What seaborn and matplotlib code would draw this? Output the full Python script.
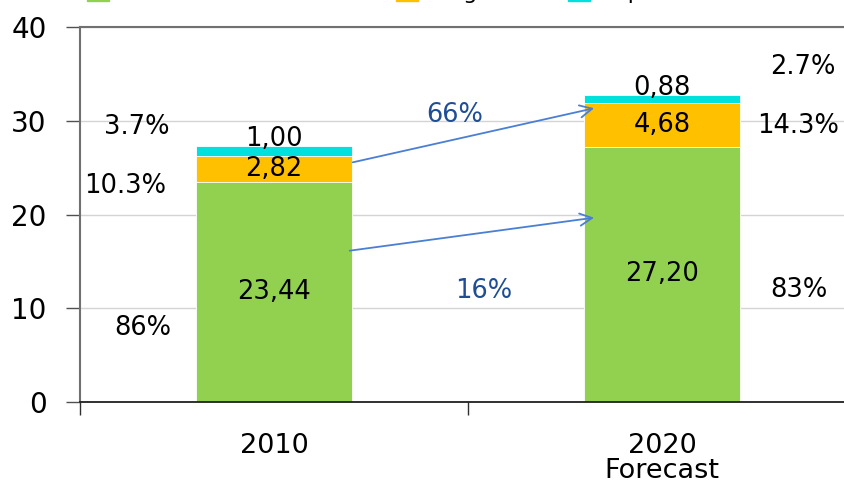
import pandas as pd
import matplotlib.pyplot as plt
import seaborn as sns
from matplotlib.patches import Patch

# values
years = ['2010', '2020\nForecast']
components = ['Combustível sólido', 'Biogás', 'Líquidos']
green_vals = [23.44, 27.20]
orange_vals = [2.82, 4.68]
cyan_vals = [1.00, 0.88]
share_2010 = ['86%', '10.3%', '3.7%']
share_2020 = ['83%', '14.3%', '2.7%']
growth = ['16%', '66%']
colors = ['#92D050', '#FFC000', '#00E0DC']

df = pd.DataFrame({'year': years, 'green': green_vals,
                   'orange': orange_vals, 'cyan': cyan_vals})
df['c_green'] = df['green']
df['c_orange'] = df['green'] + df['orange']
df['c_cyan'] = df['c_orange'] + df['cyan']

sns.set_style('white')
plt.rcParams['font.family'] = ['DejaVu Sans']
plt.rcParams['text.color'] = 'black'
plt.rcParams['xtick.color'] = 'black'
plt.rcParams['ytick.color'] = 'black'

fig = plt.figure(figsize=(8.45, 4.83), dpi=100)
ax = fig.add_axes([80 / 845, 81 / 483, 776 / 845, 375 / 483])

# stacked bars: draw cumulative totals back to front
for col, c in zip(['c_cyan', 'c_orange', 'c_green'], colors[::-1]):
    sns.barplot(data=df, x='year', y=col, color=c, width=0.4, saturation=1,
                edgecolor='white', linewidth=0.6, ax=ax, zorder=2)

ax.set_xlim(-0.5, 1.5)
ax.set_ylim(0, 40)
ax.set_yticks([0, 10, 20, 30, 40])
ax.set_xlabel('')
ax.set_ylabel('')
ax.grid(axis='y', color='#D4D4D4', lw=1, zorder=0)
ax.set_axisbelow(True)

for s in ['left', 'top']:
    ax.spines[s].set_color('#707070')
    ax.spines[s].set_linewidth(1.5)
ax.spines['right'].set_visible(False)
ax.spines['bottom'].set_color('#202020')
ax.spines['bottom'].set_linewidth(1.3)

ax.tick_params(axis='y', labelsize=20, length=10, width=1, color='#505050',
               left=True, pad=14)
ax.tick_params(axis='x', which='major', labelsize=19.5, length=0, pad=22)
ax.set_xticks([-0.5, 0.5, 1.5], minor=True)
ax.tick_params(axis='x', which='minor', length=9, width=1, bottom=True,
               color='#303030')
for lbl in ax.get_xticklabels():
    lbl.set_linespacing(0.95)

# value labels
fs = 18.5
for i in range(2):
    ax.text(i, df['green'][i] / 2, f"{df['green'][i]:.2f}".replace('.', ','),
            ha='center', va='center', fontsize=fs)
    ax.text(i, df['green'][i] + df['orange'][i] / 2,
            f"{df['orange'][i]:.2f}".replace('.', ','),
            ha='center', va='center', fontsize=fs)
    ax.text(i, df['c_cyan'][i] + 0.75,
            f"{df['cyan'][i]:.2f}".replace('.', ','),
            ha='center', va='center', fontsize=fs)

# share labels
ax.text(-0.338, 7.9, share_2010[0], ha='center', va='center', fontsize=fs)
ax.text(-0.384, 23.0, share_2010[1], ha='center', va='center', fontsize=fs)
ax.text(-0.353, 29.3, share_2010[2], ha='center', va='center', fontsize=fs)
ax.text(1.353, 11.9, share_2020[0], ha='center', va='center', fontsize=fs)
ax.text(1.35, 29.4, share_2020[1], ha='center', va='center', fontsize=fs)
ax.text(1.363, 35.7, share_2020[2], ha='center', va='center', fontsize=fs)

# growth arrows
arrow = dict(arrowstyle='->', color='#4A7FD4', lw=1.3, mutation_scale=22)
ax.annotate('', xy=(0.832, 19.7), xytext=(0.188, 16.1), arrowprops=arrow)
ax.annotate('', xy=(0.832, 31.4), xytext=(0.196, 25.5), arrowprops=arrow)
ax.text(0.541, 11.8, growth[0], ha='center', va='center', fontsize=fs,
        color='#1F4E96')
ax.text(0.466, 30.6, growth[1], ha='center', va='center', fontsize=fs,
        color='#1F4E96')

# legend, mostly above the top edge as in the original
handles = [Patch(color=c, label=l) for c, l in zip(colors, components)]
fig.legend(handles=handles, loc='center', bbox_to_anchor=(0.462, 1.016),
           ncol=3, frameon=False, fontsize=16, handlelength=1.0,
           handleheight=1.0, columnspacing=2.9, handletextpad=0.5)

fig.savefig('out.png', dpi=100)
